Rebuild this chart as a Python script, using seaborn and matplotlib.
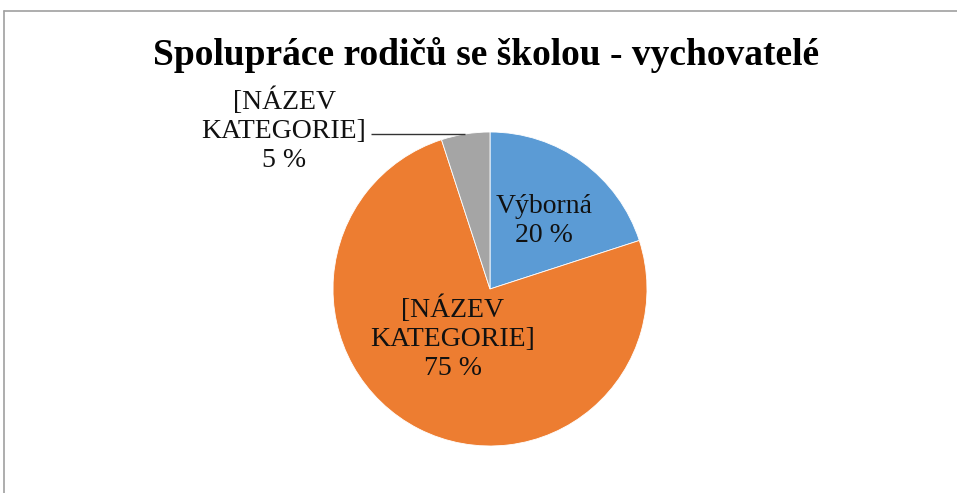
import matplotlib
matplotlib.use("Agg")
import matplotlib.pyplot as plt
from matplotlib.lines import Line2D
import seaborn as sns
import numpy as np

# Chart content
title = "Spolupráce rodičů se školou - vychovatelé"
categories = ["Výborná", "[NÁZEV\nKATEGORIE]", "[NÁZEV\nKATEGORIE]"]
shares = [20, 75, 5]
colors = ["#5B9BD5", "#ED7D31", "#A5A5A5"]

sns.set_theme(style="white")
plt.rcParams["font.family"] = ["Liberation Serif", "DejaVu Serif"]

W, H, DPI = 957, 493, 100
fig = plt.figure(figsize=(W / DPI, H / DPI), dpi=DPI)
ax = fig.add_axes([0, 0, 1, 1])

wedges, _ = ax.pie(shares, colors=colors, startangle=90, counterclock=False,
                   wedgeprops=dict(linewidth=0.6, edgecolor="white"))

# Pie geometry in pixels: centre and radius
cx, cy, R = 490, 289, 157
ax.set_xlim(-cx / R, (W - cx) / R)
ax.set_ylim(-(H - cy) / R, cy / R)
ax.set_aspect("auto")
ax.axis("off")

def label_text(i):
    return f"{categories[i]}\n{shares[i]} %"

fs = 20
txt = "#111111"
ls = 1.2
# Inside labels
ax.text(0.344, 0.433, label_text(0), ha="center", va="center", fontsize=fs,
        color=txt, linespacing=ls)
ax.text(-0.236, -0.312, label_text(1), ha="center", va="center", fontsize=fs,
        color=txt, linespacing=ls)

# Outside label with leader line to the small slice
w = wedges[2]
mid = np.deg2rad((w.theta1 + w.theta2) / 2)
ex, ey = np.cos(mid), np.sin(mid)
ax.plot([-0.76, ex], [ey, ey], color="#333333", linewidth=1.0, solid_capstyle="butt")
ax.text(-1.312, 1.013, label_text(2), ha="center", va="center", fontsize=fs,
        color=txt, linespacing=ls)

fig.text(486 / W, 1 - 65 / H, title, ha="center", va="baseline",
         fontsize=27, fontweight="bold", color="black")

# Chart frame (top and left edges visible)
frame_col = "#A0A0A0"
fig.add_artist(Line2D([4 / W, 1], [1 - 11 / H, 1 - 11 / H], color=frame_col,
                      linewidth=1.2, transform=fig.transFigure))
fig.add_artist(Line2D([4 / W, 4 / W], [1 - 11 / H, 0], color=frame_col,
                      linewidth=1.2, transform=fig.transFigure))

fig.savefig("out.png", dpi=DPI, facecolor="white")
